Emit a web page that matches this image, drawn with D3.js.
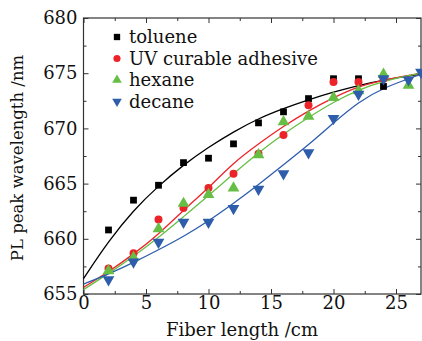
<!DOCTYPE html>
<html>
<head>
<meta charset="utf-8">
<script src="https://cdn.jsdelivr.net/npm/d3@7"></script>
<style>
  body { margin: 0; background: #fff; }
  svg { display: block; }
  text { font-family: "DejaVu Serif", "Liberation Serif", serif; fill: #111; }
</style>
</head>
<body>
<svg id="chart" width="422" height="341"></svg>
<script>
// measured points (fiber length cm, PL peak nm)
const tolueneX = [2, 4, 6, 8, 10, 12, 14, 16, 18, 20, 22, 24];
const tolueneY = [660.8, 663.5, 664.85, 666.9, 667.3, 668.6, 670.5, 671.5, 672.7, 674.5, 674.5, 673.8];
const uvX = [2, 4, 6, 8, 10, 12, 14, 16, 18, 20, 22, 24];
const uvY = [657.3, 658.7, 661.75, 662.8, 664.6, 665.9, 667.7, 669.4, 672.1, 674.2, 674.2, 674.5];
const hexaneX = [2, 4, 6, 8, 10, 12, 14, 16, 18, 20, 22, 24, 26];
const hexaneY = [657.1, 658.3, 660.9, 663.2, 664.0, 664.6, 667.6, 670.6, 671.1, 672.8, 673.4, 674.9, 673.9];
const decaneX = [2, 4, 6, 8, 10, 12, 14, 16, 18, 20, 22, 24, 26, 27];
const decaneY = [656.3, 657.9, 659.7, 661.5, 661.5, 662.75, 664.5, 665.9, 667.8, 670.9, 673.1, 674.5, 674.4, 675.1];

// fitted curves
const fitX = [0, 2, 4, 6, 8, 10, 12, 14, 16, 18, 20, 22, 24, 27];
const tolueneFit = [656.4, 659.8, 662.6, 664.8, 666.7, 668.3, 669.7, 670.9, 671.8, 672.6, 673.3, 673.9, 674.4, 674.9];
const uvFit = [655.6, 657.0, 658.6, 660.4, 662.6, 664.6, 666.9, 668.6, 670.2, 671.6, 672.8, 673.8, 674.4, 675.0];
const hexaneFit = [655.4, 656.85, 658.4, 660.1, 662.0, 663.9, 665.9, 667.8, 669.5, 671.0, 672.4, 673.5, 674.3, 675.0];
const decaneFit = [655.9, 656.8, 657.85, 659.0, 660.2, 661.6, 663.2, 664.9, 666.7, 668.5, 670.5, 672.4, 673.7, 674.9];

const seriesNames = ["toluene", "UV curable adhesive", "hexane", "decane"];
const seriesColors = ["#000000", "#ec2329", "#66be44", "#2d5dab"];

const xTicks = [0, 5, 10, 15, 20, 25];
const yTicks = [655, 660, 665, 670, 675, 680];

const svg = d3.select("#chart");
const pLeft = 83.5, pRight = 421, pTop = 18, pBottom = 294;

const x = d3.scaleLinear().domain([0, 27]).range([pLeft, pRight]);
const y = d3.scaleLinear().domain([655, 680]).range([pBottom, pTop]);

const xMinor = d3.range(2.5, 27, 5);
const yMinor = d3.range(657.5, 680, 5);

// axes, ticks pointing inward
function addAxis(axis, tf, labels) {
  const g = svg.append("g").attr("transform", tf).call(axis);
  g.select(".domain").remove();
  g.selectAll("line").attr("stroke", "#333").attr("stroke-width", 1);
  if (labels) g.selectAll("text").attr("font-size", 18).attr("fill", "#111")
    .attr("font-family", "DejaVu Serif, Liberation Serif, serif");
  return g;
}

addAxis(d3.axisBottom(x).tickValues(xTicks).tickSize(-5).tickPadding(2).tickFormat(d3.format("d")),
  `translate(0,${pBottom})`, true);
addAxis(d3.axisBottom(x).tickValues(xMinor).tickSize(-3).tickFormat(""), `translate(0,${pBottom})`);
addAxis(d3.axisTop(x).tickValues(xTicks).tickSize(-5).tickFormat(""), `translate(0,${pTop})`);
addAxis(d3.axisTop(x).tickValues(xMinor).tickSize(-3).tickFormat(""), `translate(0,${pTop})`);

addAxis(d3.axisLeft(y).tickValues(yTicks).tickSize(-5).tickPadding(6).tickFormat(d3.format("d")),
  `translate(${pLeft},0)`, true);
addAxis(d3.axisLeft(y).tickValues(yMinor).tickSize(-3).tickFormat(""), `translate(${pLeft},0)`);
addAxis(d3.axisRight(y).tickValues(yTicks).tickSize(-5).tickFormat(""), `translate(${pRight},0)`);
addAxis(d3.axisRight(y).tickValues(yMinor).tickSize(-3).tickFormat(""), `translate(${pRight},0)`);

svg.append("rect")
  .attr("x", pLeft).attr("y", pTop)
  .attr("width", pRight - pLeft).attr("height", pBottom - pTop)
  .attr("fill", "none").attr("stroke", "#333").attr("stroke-width", 1.2);

// fit lines
const fits = [tolueneFit, uvFit, hexaneFit, decaneFit];
const line = d3.line().x(d => x(d[0])).y(d => y(d[1])).curve(d3.curveBasis);
fits.forEach((f, i) => {
  svg.append("path")
    .datum(fitX.map((v, j) => [v, f[j]]))
    .attr("fill", "none")
    .attr("stroke", seriesColors[i])
    .attr("stroke-width", 1.3)
    .attr("d", line);
});

// markers
const symbols = [
  d3.symbol().type(d3.symbolSquare).size(46),
  d3.symbol().type(d3.symbolCircle).size(50),
  d3.symbol().type(d3.symbolTriangle).size(60),
  d3.symbol().type(d3.symbolTriangle).size(60)
];
const rot = [0, 0, 0, 180];
const pts = [[tolueneX, tolueneY], [uvX, uvY], [hexaneX, hexaneY], [decaneX, decaneY]];

pts.forEach((p, i) => {
  svg.append("g").selectAll("path")
    .data(p[0].map((v, j) => [v, p[1][j]]))
    .join("path")
    .attr("d", symbols[i])
    .attr("fill", seriesColors[i])
    .attr("transform", d => `translate(${x(d[0])},${y(d[1])}) rotate(${rot[i]})`);
});

// legend
const legend = svg.append("g").attr("transform", "translate(117,37)");
seriesNames.forEach((name, i) => {
  const row = legend.append("g").attr("transform", `translate(0,${i * 21.5})`);
  row.append("path")
    .attr("d", d3.symbol().type(i === 0 ? d3.symbolSquare : i === 1 ? d3.symbolCircle : d3.symbolTriangle).size(40))
    .attr("fill", seriesColors[i])
    .attr("transform", `rotate(${rot[i]})`);
  row.append("text")
    .attr("x", 12).attr("y", 6)
    .attr("font-size", 18)
    .text(name);
});

// axis titles
svg.append("text")
  .attr("x", 242)
  .attr("y", 336)
  .attr("text-anchor", "middle")
  .attr("font-size", 18)
  .text("Fiber length /cm");

svg.append("text")
  .attr("transform", "translate(23,158) rotate(-90)")
  .attr("text-anchor", "middle")
  .attr("font-size", 16.5)
  .text("PL peak wavelength /nm");
</script>
</body>
</html>
